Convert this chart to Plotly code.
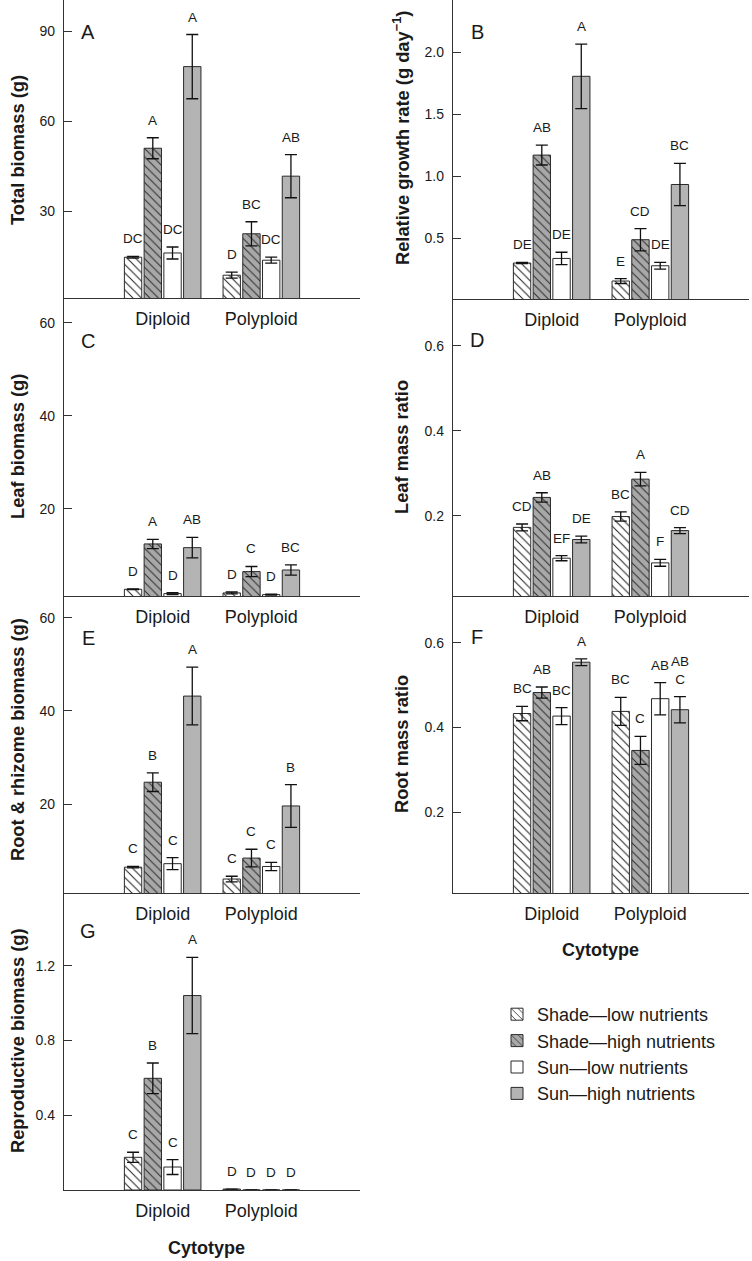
import plotly.graph_objects as go

# ---------------- data ----------------
categories = ["Diploid", "Polyploid"]
treatments = ["Shade\u2014low nutrients", "Shade\u2014high nutrients",
              "Sun\u2014low nutrients", "Sun\u2014high nutrients"]

# rows: treatments (Shade-low, Shade-high, Sun-low, Sun-high); cols: Diploid, Polyploid
total_mean = [[14.8, 8.8], [51.1, 22.6], [16.2, 13.8], [78.3, 41.8]]
total_se = [[0.3, 1.0], [3.5, 4.0], [2.0, 1.0], [10.7, 7.2]]
total_letters = [["DC", "D"], ["A", "BC"], ["DC", "DC"], ["A", "AB"]]

rgr_mean = [[0.30, 0.155], [1.17, 0.488], [0.337, 0.278], [1.805, 0.933]]
rgr_se = [[0.005, 0.02], [0.08, 0.09], [0.05, 0.027], [0.26, 0.17]]
rgr_letters = [["DE", "E"], ["AB", "CD"], ["DE", "DE"], ["A", "BC"]]

leaf_mean = [[2.65, 1.86], [12.4, 6.45], [1.72, 1.5], [11.6, 6.8]]
leaf_se = [[0.1, 0.2], [1.0, 1.1], [0.2, 0.1], [2.2, 1.1]]
leaf_letters = [["D", "D"], ["A", "C"], ["D", "D"], ["AB", "BC"]]

lmr_mean = [[0.1725, 0.198], [0.243, 0.286], [0.100, 0.089], [0.144, 0.165]]
lmr_se = [[0.008, 0.011], [0.011, 0.016], [0.006, 0.008], [0.008, 0.007]]
lmr_letters = [["CD", "BC"], ["AB", "A"], ["EF", "F"], ["DE", "CD"]]

root_mean = [[6.45, 3.9], [24.7, 8.4], [7.2, 6.6], [43.2, 19.6]]
root_se = [[0.15, 0.6], [2.0, 1.9], [1.3, 0.9], [6.2, 4.6]]
root_letters = [["C", "C"], ["B", "C"], ["C", "C"], ["A", "B"]]

rmr_mean = [[0.433, 0.438], [0.4825, 0.346], [0.427, 0.468], [0.554, 0.442]]
rmr_se = [[0.017, 0.033], [0.013, 0.033], [0.02, 0.038], [0.008, 0.031]]
rmr_letters = [["BC", "BC"], ["AB", "C"], ["BC", "AB"], ["A", "AB<br>C"]]

repro_mean = [[0.175, 0.005], [0.598, 0.0], [0.123, 0.0], [1.041, 0.0]]
repro_se = [[0.027, 0.0], [0.082, 0.0], [0.04, 0.0], [0.204, 0.0]]
repro_letters = [["C", "D"], ["B", "D"], ["C", "D"], ["A", "D"]]

# ---------------- styles ----------------
W, H = 752, 1261
FONT = "Arial, 'Liberation Sans', sans-serif"

def px_x(x):
    return x / W

def px_y(y):
    return 1 - y / H

styles = [
    dict(bg="white", fg="#1a1a1a", shape="\\"),
    dict(bg="#a8a8a8", fg="#2a2a2a", shape="\\"),
    dict(bg="white", fg="white", shape=""),
    dict(bg="#b4b4b4", fg="#b4b4b4", shape=""),
]

cols = [(64, 360), (453, 749)]

panels = [
    dict(tag="A", col=0, top=0, bottom=298, mean=total_mean, se=total_se, let=total_letters,
         yr=[1.2, 100.5], tv=[30, 60, 90], fmt="d", title="Total biomass (g)", ly=32, tc=150),
    dict(tag="B", col=1, top=0, bottom=299, mean=rgr_mean, se=rgr_se, let=rgr_letters,
         yr=[0.01, 2.42], tv=[0.5, 1.0, 1.5, 2.0], fmt=".1f",
         title="Relative growth rate (g day<sup>\u22121</sup>)", ly=32, tc=138),
    dict(tag="C", col=0, top=298, bottom=596, mean=leaf_mean, se=leaf_se, let=leaf_letters,
         yr=[1.2, 65.3], tv=[20, 40, 60], fmt="d", title="Leaf biomass (g)", ly=341, tc=447),
    dict(tag="D", col=1, top=299, bottom=596, mean=lmr_mean, se=lmr_se, let=lmr_letters,
         yr=[0.011, 0.71], tv=[0.2, 0.4, 0.6], fmt=".1f", title="Leaf mass ratio", ly=340, tc=447),
    dict(tag="E", col=0, top=596, bottom=893, mean=root_mean, se=root_se, let=root_letters,
         yr=[0.9, 64.7], tv=[20, 40, 60], fmt="d", title="Root &amp; rhizome biomass (g)",
         ly=638, tc=740),
    dict(tag="F", col=1, top=596, bottom=893, mean=rmr_mean, se=rmr_se, let=rmr_letters,
         yr=[0.01, 0.71], tv=[0.2, 0.4, 0.6], fmt=".1f", title="Root mass ratio", ly=637, tc=744),
    dict(tag="G", col=0, top=893, bottom=1190, mean=repro_mean, se=repro_se, let=repro_letters,
         yr=[0.0, 1.59], tv=[0.4, 0.8, 1.2], fmt=".1f", title="Reproductive biomass (g)",
         ly=931, tc=1041),
]

fig = go.Figure()
annotations = []
layout = {}
offsets = [-0.3, -0.1, 0.1, 0.3]
xpos = [1, 2]

for k, p in enumerate(panels):
    n = "" if k == 0 else str(k + 1)
    xa, ya = "x" + n, "y" + n
    x0, x1 = cols[p["col"]]
    layout["xaxis" + n] = dict(
        domain=[px_x(x0), px_x(x1)], range=[0, 3], anchor=ya,
        tickvals=xpos, ticktext=categories, ticks="", showgrid=False, zeroline=False,
        showline=True, linecolor="#333", linewidth=1.3, ticklabelstandoff=4,
        tickfont=dict(family=FONT, size=18, color="#1a1a1a"), fixedrange=True)
    layout["yaxis" + n] = dict(
        domain=[px_y(p["bottom"]), px_y(p["top"])], range=p["yr"], anchor=xa,
        tickvals=p["tv"], tickformat=p["fmt"], ticks="inside", ticklen=8,
        tickcolor="#333", tickwidth=1, showgrid=False, zeroline=False,
        showline=True, linecolor="#333", linewidth=1.3, ticklabelstandoff=5,
        tickfont=dict(family=FONT, size=14, color="#1a1a1a"), fixedrange=True)
    for i, name in enumerate(treatments):
        st = styles[i]
        marker = dict(color=st["bg"], line=dict(color="#2a2a2a", width=1))
        if st["shape"]:
            marker["pattern"] = dict(shape=st["shape"], bgcolor=st["bg"], fgcolor=st["fg"],
                                     fillmode="replace", size=6, solidity=0.16)
        fig.add_trace(go.Bar(
            x=xpos, y=p["mean"][i], name=name, xaxis=xa, yaxis=ya,
            legendgroup=name, showlegend=(k == 0), marker=marker,
            error_y=dict(type="data", array=p["se"][i], color="#111", thickness=1.3, width=6),
        ))
        for j in range(2):
            annotations.append(dict(
                x=xpos[j] + offsets[i], y=p["mean"][i][j] + p["se"][i][j],
                xref=xa, yref=ya, text=p["let"][i][j], showarrow=False,
                yanchor="bottom", yshift=8,
                font=dict(family=FONT, size=13.5, color="#1a1a1a")))
    # panel letter
    lx = x0 + 24
    annotations.append(dict(x=px_x(lx), y=px_y(p["ly"]), xref="paper", yref="paper",
                            text=p["tag"], showarrow=False, xanchor="center", yanchor="middle",
                            font=dict(family=FONT, size=20, color="#1a1a1a")))
    # y title
    tx = 17 if p["col"] == 0 else 401
    annotations.append(dict(x=px_x(tx), y=px_y(p["tc"]),
                            xref="paper", yref="paper", text=p["title"], textangle=-90,
                            showarrow=False, xanchor="center", yanchor="middle",
                            font=dict(family=FONT, size=18.3, color="#1a1a1a", weight="bold")))

# x titles
for cx, cy in [(207, 1248), (600, 950)]:
    annotations.append(dict(x=px_x(cx), y=px_y(cy), xref="paper", yref="paper",
                            text="Cytotype", showarrow=False, xanchor="center", yanchor="middle",
                            font=dict(family=FONT, size=18, color="#1a1a1a", weight="bold")))

fig.update_layout(
    width=W, height=H, margin=dict(l=0, r=0, t=0, b=0),
    paper_bgcolor="white", plot_bgcolor="white",
    barmode="group", bargap=0.2, bargroupgap=0.12,
    showlegend=True,
    legend=dict(x=px_x(497), y=px_y(996), xanchor="left", yanchor="top",
                font=dict(family=FONT, size=18, color="#1a1a1a"),
                bgcolor="rgba(0,0,0,0)", traceorder="normal", itemwidth=30,
                tracegroupgap=0),
    annotations=annotations,
    **layout,
)

fig.write_html("out.html", config={"displayModeBar": False},
               post_script="document.body.style.margin='0';")
